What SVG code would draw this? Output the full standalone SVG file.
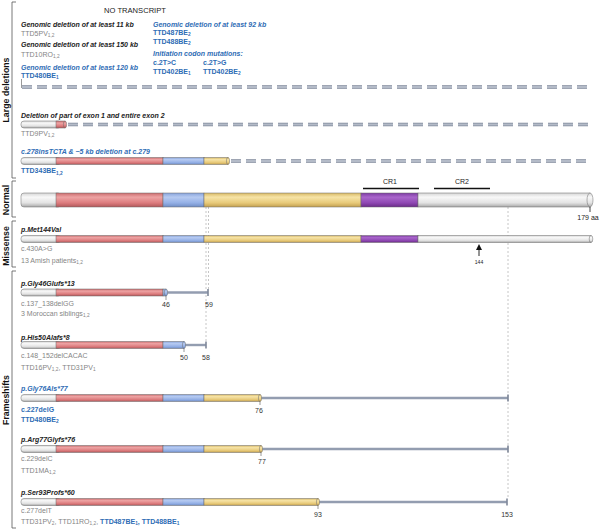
<svg xmlns="http://www.w3.org/2000/svg" width="601" height="532" viewBox="0 0 601 532">
<style>
text{font-family:"Liberation Sans",Arial,sans-serif;font-size:7px;fill:#222}
.t{font-weight:bold;font-style:italic}
.g{fill:#858585}
.b{fill:#2f6db5;font-weight:bold}
.bi{fill:#2f6db5;font-weight:bold;font-style:italic}
.sec{font-size:8.8px;font-weight:bold;fill:#111}
.num{font-size:7px;fill:#333;text-anchor:middle}
.sub{font-size:4.8px}
.br{fill:none;stroke:#555;stroke-width:0.8}
.seg{stroke:#6a6a6a;stroke-width:0.5}
.gy{fill:url(#gGrey)}.rd{fill:url(#gRed)}.bl{fill:url(#gBlue)}.yl{fill:url(#gYel)}.pu{fill:url(#gPur)}
.ol{fill:none;stroke:#6a6a6a;stroke-width:0.6}
.dsh1{stroke:#7f889a;stroke-width:3.4;stroke-dasharray:10 5;fill:none}
.dsh2{stroke:#b4bbc8;stroke-width:1.8;stroke-dasharray:10 5;fill:none}
.tail{stroke:#939db0;stroke-width:2.4;fill:none}
.endt{fill:#7f889a}
.tk{stroke:#555;stroke-width:0.6}
.vd{stroke:#b8b8b8;stroke-width:0.8;stroke-dasharray:2 2;fill:none}
.cr{stroke:#111;stroke-width:1.6}
</style>
<defs>
<linearGradient id="gGrey" x1="0" y1="0" x2="0" y2="1"><stop offset="0" stop-color="#d6d6d6"/><stop offset="0.3" stop-color="#f8f8f8"/><stop offset="0.7" stop-color="#e3e3e3"/><stop offset="1" stop-color="#a8a8a8"/></linearGradient>
<linearGradient id="gRed" x1="0" y1="0" x2="0" y2="1"><stop offset="0" stop-color="#cc6d6f"/><stop offset="0.3" stop-color="#eda3a3"/><stop offset="0.7" stop-color="#dd7c7e"/><stop offset="1" stop-color="#b2585a"/></linearGradient>
<linearGradient id="gBlue" x1="0" y1="0" x2="0" y2="1"><stop offset="0" stop-color="#88a4dc"/><stop offset="0.3" stop-color="#b6caf1"/><stop offset="0.7" stop-color="#94b0e6"/><stop offset="1" stop-color="#6f8cc4"/></linearGradient>
<linearGradient id="gYel" x1="0" y1="0" x2="0" y2="1"><stop offset="0" stop-color="#d9ba66"/><stop offset="0.3" stop-color="#f6e3a6"/><stop offset="0.7" stop-color="#e8ca7a"/><stop offset="1" stop-color="#c3a04f"/></linearGradient>
<linearGradient id="gPur" x1="0" y1="0" x2="0" y2="1"><stop offset="0" stop-color="#7d3ba2"/><stop offset="0.3" stop-color="#a966cb"/><stop offset="0.7" stop-color="#8f48b3"/><stop offset="1" stop-color="#6a2c88"/></linearGradient>
<marker id="arr" markerWidth="6" markerHeight="6" refX="3" refY="3" orient="auto" markerUnits="userSpaceOnUse"><path d="M0,0 L6,3 L0,6 z" fill="#111"/></marker>
</defs>

<g id="sections">
<path class="br" d="M16,2 H12 V178 H16"/>
<text class="sec" transform="translate(9,90) rotate(-90)" text-anchor="middle">Large deletions</text>
<path class="br" d="M16,181 H12 V217 H16"/>
<text class="sec" transform="translate(9,200) rotate(-90)" text-anchor="middle">Normal</text>
<path class="br" d="M16,221 H12 V267 H16"/>
<text class="sec" transform="translate(9,246) rotate(-90)" text-anchor="middle">Missense</text>
<path class="br" d="M16,271 H12 V528 H16"/>
<text class="sec" transform="translate(9,400) rotate(-90)" text-anchor="middle">Frameshifts</text>
</g>

<g id="connectors">
<line class="vd" x1="206" y1="207" x2="206" y2="342"/>
<line class="vd" x1="208.5" y1="207" x2="208.5" y2="289"/>
<line class="vd" x1="508" y1="207" x2="508" y2="499"/>
<path class="tk" d="M21.5,79 V88"/>
<line class="dsh1" x1="22" y1="87" x2="591" y2="87"/>
<line class="dsh2" x1="22" y1="87" x2="591" y2="87"/>
<line class="dsh1" x1="68" y1="124.5" x2="591" y2="124.5"/>
<line class="dsh2" x1="68" y1="124.5" x2="591" y2="124.5"/>
<line class="dsh1" x1="231" y1="161" x2="591" y2="161"/>
<line class="dsh2" x1="231" y1="161" x2="591" y2="161"/>
<line class="tail" x1="166" y1="292.5" x2="208" y2="292.5"/>
<rect class="endt" x="207.2" y="289" width="1.6" height="7"/>
<line class="tail" x1="184" y1="345" x2="206" y2="345"/>
<rect class="endt" x="205.2" y="341.5" width="1.6" height="7"/>
<line class="tail" x1="260" y1="398" x2="508" y2="398"/>
<rect class="endt" x="507.2" y="394.5" width="1.6" height="7"/>
<line class="tail" x1="261" y1="449" x2="508" y2="449"/>
<rect class="endt" x="507.2" y="445.5" width="1.6" height="7"/>
<line class="tail" x1="318" y1="502" x2="507" y2="502"/>
<rect class="endt" x="506.2" y="498.5" width="1.6" height="7"/>
</g>

<g id="no-transcript">
<text x="135" y="13" text-anchor="middle" style="font-size:7.6px">NO TRANSCRIPT</text>
<text class="t" x="21" y="26.5">Genomic deletion of at least 11 kb</text>
<text class="g" x="21" y="35.5">TTD5PV<tspan class="sub" dy="1.5">1,2</tspan></text>
<text class="t" x="21" y="46.5">Genomic deletion of at least 150 kb</text>
<text class="g" x="21" y="56.5">TTD10RO<tspan class="sub" dy="1.5">1,2</tspan></text>
<text class="bi" x="21" y="69.5">Genomic deletion of at least 120 kb</text>
<text class="b" x="21" y="77.5">TTD480BE<tspan class="sub" dy="1.5">1</tspan></text>
<text class="bi" x="153" y="26.5">Genomic deletion of at least 92 kb</text>
<text class="b" x="153" y="34.5">TTD487BE<tspan class="sub" dy="1.5">2</tspan></text>
<text class="b" x="153" y="43.5">TTD488BE<tspan class="sub" dy="1.5">2</tspan></text>
<text class="bi" x="153" y="55.5">Initiation codon mutations:</text>
<text class="b" x="153" y="65">c.2T&gt;C</text>
<text class="b" x="203" y="65">c.2T&gt;G</text>
<text class="b" x="153" y="73.5">TTD402BE<tspan class="sub" dy="1.5">1</tspan></text>
<text class="b" x="203" y="73.5">TTD402BE<tspan class="sub" dy="1.5">2</tspan></text>
</g>

<g id="del-exon">
<text class="t" x="21" y="117.5">Deletion of part of exon 1 and entire exon 2</text>
<rect class="seg gy" x="21" y="121" width="40" height="7" rx="3"/>
<rect class="seg rd" x="56" y="121" width="9" height="7"/>
<ellipse class="seg rd" cx="65" cy="124.5" rx="1.6" ry="3.5"/>
<text class="g" x="21" y="135.5">TTD9PV<tspan class="sub" dy="1.5">1,2</tspan></text>
</g>

<g id="ins-del">
<text class="bi" x="21" y="153.5">c.278insTCTA &amp; ~5 kb deletion at c.279</text>
<rect class="seg gy" x="21" y="157.5" width="40" height="7" rx="3"/>
<rect class="seg rd" x="56" y="157.5" width="107" height="7"/>
<rect class="seg bl" x="163" y="157.5" width="41" height="7"/>
<rect class="seg yl" x="204" y="157.5" width="24" height="7"/>
<ellipse class="seg yl" cx="228" cy="161" rx="1.6" ry="3.5"/>
<text class="b" x="21" y="173">TTD343BE<tspan class="sub" dy="1.5">1,2</tspan></text>
</g>

<g id="normal">
<text x="390" y="184" text-anchor="middle">CR1</text>
<line class="cr" x1="363" y1="188.5" x2="419" y2="188.5"/>
<text x="462" y="184" text-anchor="middle">CR2</text>
<line class="cr" x1="434" y1="188.5" x2="490" y2="188.5"/>
<rect class="seg gy" x="21" y="193" width="40" height="14" rx="3"/>
<rect class="seg rd" x="56" y="193" width="107" height="14"/>
<rect class="seg bl" x="163" y="193" width="41" height="14"/>
<rect class="seg yl" x="204" y="193" width="157" height="14"/>
<rect class="seg pu" x="361" y="193" width="57" height="14"/>
<rect class="seg gy" x="418" y="193" width="172" height="14"/>
<ellipse class="seg gy" cx="590" cy="200" rx="3" ry="7"/>
<line class="tk" x1="590" y1="207" x2="590" y2="212" style="stroke:#111;stroke-width:0.8"/>
<text x="588" y="220" text-anchor="middle">179 aa</text>
</g>

<g id="missense">
<text class="t" x="21" y="231.5">p.Met144Val</text>
<rect class="seg gy" x="21" y="235.5" width="40" height="7" rx="3"/>
<rect class="seg rd" x="56" y="235.5" width="107" height="7"/>
<rect class="seg bl" x="163" y="235.5" width="41" height="7"/>
<rect class="seg yl" x="204" y="235.5" width="157" height="7"/>
<rect class="seg pu" x="361" y="235.5" width="57" height="7"/>
<rect class="seg gy" x="418" y="235.5" width="173" height="7"/>
<ellipse class="seg gy" cx="591" cy="239" rx="1.8" ry="3.5"/>
<line x1="479" y1="256" x2="479" y2="247" stroke="#111" stroke-width="0.9" marker-end="url(#arr)"/>
<text x="479" y="264" text-anchor="middle" style="font-size:5px">144</text>
<text class="g" x="21" y="250.5">c.430A&gt;G</text>
<text class="g" x="21" y="262.5">13 Amish patients<tspan class="sub" dy="1.5">1,2</tspan></text>
</g>

<g id="fs-gly46">
<text class="t" x="21" y="285.5">p.Gly46Glufs*13</text>
<rect class="seg gy" x="21" y="289" width="40" height="7" rx="3"/>
<rect class="seg rd" x="56" y="289" width="107" height="7"/>
<rect class="seg bl" x="163" y="289" width="3" height="7"/>
<ellipse class="seg bl" cx="166" cy="292.5" rx="1.6" ry="3.5"/>
<line class="tk" x1="166" y1="296" x2="166" y2="300"/>
<text class="num" x="166" y="306.5">46</text>
<text class="num" x="209" y="306.5">59</text>
<text class="g" x="21" y="305.5">c.137_138delGG</text>
<text class="g" x="21" y="315.5">3 Moroccan siblings<tspan class="sub" dy="1.5">1,2</tspan></text>
</g>

<g id="fs-his50">
<text class="t" x="21" y="339.5">p.His50Alafs*8</text>
<rect class="seg gy" x="21" y="341.5" width="40" height="7" rx="3"/>
<rect class="seg rd" x="56" y="341.5" width="107" height="7"/>
<rect class="seg bl" x="163" y="341.5" width="21" height="7"/>
<ellipse class="seg bl" cx="184" cy="345" rx="1.6" ry="3.5"/>
<line class="tk" x1="184" y1="348.5" x2="184" y2="352"/>
<text class="num" x="184" y="360">50</text>
<text class="num" x="206" y="360">58</text>
<text class="g" x="21" y="357.5">c.148_152delCACAC</text>
<text class="g" x="21" y="369.5">TTD16PV<tspan class="sub" dy="1.5">1,2</tspan><tspan dy="-1.5">, TTD31PV</tspan><tspan class="sub" dy="1.5">1</tspan></text>
</g>

<g id="fs-gly76">
<text class="bi" x="21" y="390.5">p.Gly76Als*77</text>
<rect class="seg gy" x="21" y="394.5" width="40" height="7" rx="3"/>
<rect class="seg rd" x="56" y="394.5" width="107" height="7"/>
<rect class="seg bl" x="163" y="394.5" width="41" height="7"/>
<rect class="seg yl" x="204" y="394.5" width="56" height="7"/>
<ellipse class="seg yl" cx="260" cy="398" rx="1.6" ry="3.5"/>
<line class="tk" x1="260" y1="401.5" x2="260" y2="405"/>
<text class="num" x="259" y="412.5">76</text>
<text class="b" x="21" y="411.5">c.227delG</text>
<text class="b" x="21" y="421.5">TTD480BE<tspan class="sub" dy="1.5">2</tspan></text>
</g>

<g id="fs-arg77">
<text class="t" x="21" y="441.5">p.Arg77Glyfs*76</text>
<rect class="seg gy" x="21" y="445.5" width="40" height="7" rx="3"/>
<rect class="seg rd" x="56" y="445.5" width="107" height="7"/>
<rect class="seg bl" x="163" y="445.5" width="41" height="7"/>
<rect class="seg yl" x="204" y="445.5" width="57" height="7"/>
<ellipse class="seg yl" cx="261" cy="449" rx="1.6" ry="3.5"/>
<line class="tk" x1="261" y1="452.5" x2="261" y2="456"/>
<text class="num" x="262" y="463.5">77</text>
<text class="g" x="21" y="460.5">c.229delC</text>
<text class="g" x="21" y="472.5">TTD1MA<tspan class="sub" dy="1.5">1,2</tspan></text>
</g>

<g id="fs-ser93">
<text class="t" x="21" y="494.5">p.Ser93Profs*60</text>
<rect class="seg gy" x="21" y="498.5" width="40" height="7" rx="3"/>
<rect class="seg rd" x="56" y="498.5" width="107" height="7"/>
<rect class="seg bl" x="163" y="498.5" width="41" height="7"/>
<rect class="seg yl" x="204" y="498.5" width="114" height="7"/>
<ellipse class="seg yl" cx="318" cy="502" rx="1.6" ry="3.5"/>
<line class="tk" x1="318" y1="505.5" x2="318" y2="509"/>
<text class="num" x="318" y="516.5">93</text>
<text class="num" x="507" y="516.5">153</text>
<text class="g" x="21" y="512.5">c.277delT</text>
<text x="21" y="523.5"><tspan class="g">TTD31PV</tspan><tspan class="g sub" dy="1.5">2</tspan><tspan class="g" dy="-1.5">, TTD11RO</tspan><tspan class="g sub" dy="1.5">1,2</tspan><tspan class="g" dy="-1.5">, </tspan><tspan class="b">TTD487BE</tspan><tspan class="b sub" dy="1.5">1</tspan><tspan class="b" dy="-1.5">, TTD488BE</tspan><tspan class="b sub" dy="1.5">1</tspan></text>
</g>
</svg>
